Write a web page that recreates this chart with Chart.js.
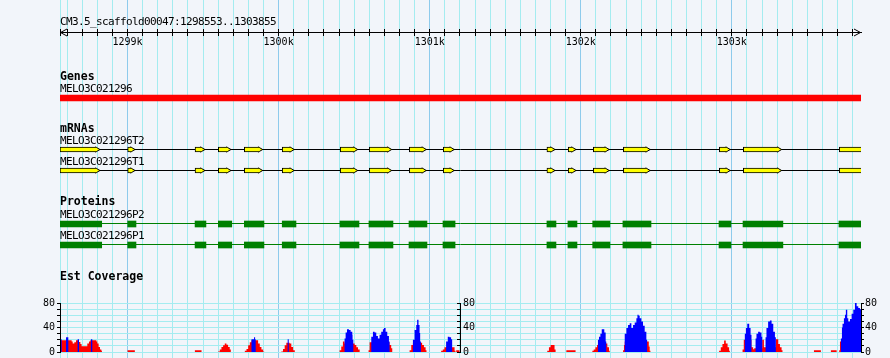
<!DOCTYPE html>
<html>
<head>
<meta charset="utf-8">
<script src="https://cdn.jsdelivr.net/npm/chart.js@4.4.1/dist/chart.umd.min.js"></script>
<style>
html,body{margin:0;padding:0;background:#f2f5fa;}
#wrap{position:relative;width:890px;height:358px;overflow:hidden;background:#f2f5fa;}
#wrap canvas{position:absolute;}
.lbl{position:absolute;left:60px;font-family:"DejaVu Sans Mono",monospace;font-size:11px;line-height:11px;letter-spacing:-0.62px;white-space:nowrap;color:#000;}
.lbl.ttl{font-weight:bold;font-size:11.5px;line-height:11.5px;letter-spacing:0;}
</style>
</head>
<body>
<div id="wrap">
  <canvas id="main" width="890" height="358" style="left:0;top:0"></canvas>
  <canvas id="covL" width="460" height="62" style="left:0;top:296px"></canvas>
  <canvas id="covR" width="440" height="62" style="left:450px;top:296px"></canvas>
</div>
<script>
// ---------------- DATA ----------------
const REGION_NAME = 'CM3.5_scaffold00047';
const REGION_START = 1298553;
const REGION_END = 1303855;
const regionTitle = REGION_NAME + ':' + REGION_START + '..' + REGION_END;

const kbTicks = [1299000, 1300000, 1301000, 1302000, 1303000];
const kbLabels = ['1299k', '1300k', '1301k', '1302k', '1303k'];

const trackTitles = ['Genes', 'mRNAs', 'Proteins', 'Est Coverage'];
const featureNames = ['MELO3C021296', 'MELO3C021296T2', 'MELO3C021296T1', 'MELO3C021296P2', 'MELO3C021296P1'];

// gene span (clipped to view)
const geneSpan = [[1298553, 1303855]];

// mRNA exons [start, end]
const t2Exons = [[1298553,1298798],[1299001,1299030],[1299447,1299493],[1299601,1299665],[1299773,1299875],[1300024,1300084],[1300408,1300504],[1300600,1300729],[1300865,1300958],[1301090,1301143],[1301776,1301810],[1301917,1301949],[1302083,1302169],[1302282,1302440],[1302917,1302970],[1303076,1303310],[1303711,1303855]];
const t1Exons = [[1298553,1298798],[1299001,1299030],[1299447,1299493],[1299601,1299665],[1299773,1299875],[1300024,1300084],[1300408,1300504],[1300600,1300729],[1300865,1300958],[1301090,1301143],[1301776,1301810],[1301917,1301949],[1302083,1302169],[1302282,1302440],[1302917,1302970],[1303076,1303310],[1303711,1303855]];

// protein (CDS) blocks [start, end]
const p2Blocks = [[1298553,1298829],[1299001,1299056],[1299447,1299519],[1299601,1299690],[1299773,1299903],[1300024,1300115],[1300406,1300532],[1300598,1300757],[1300863,1300982],[1301088,1301168],[1301776,1301836],[1301915,1301975],[1302079,1302193],[1302279,1302465],[1302915,1302994],[1303074,1303338],[1303709,1303855]];
const p1Blocks = [[1298553,1298829],[1299001,1299056],[1299447,1299519],[1299601,1299690],[1299773,1299903],[1300024,1300115],[1300406,1300532],[1300598,1300757],[1300863,1300982],[1301088,1301168],[1301776,1301836],[1301915,1301975],[1302079,1302193],[1302279,1302465],[1302915,1302994],[1303074,1303338],[1303709,1303855]];

// EST coverage [position, depth]; each value holds until the next position
const estRed = [[1298553,19],[1298630,17],[1298637,14],[1298648,16],[1298659,19],[1298679,16.5],[1298688,13],[1298696,9.4],[1298734,14],[1298745,17],[1298754,19],[1298794,17],[1298800,14],[1298809,8],[1298818,4],[1298827,2],[1298831,0],
[1299001,3],[1299049,0],
[1299447,3],[1299491,0],
[1299601,1],[1299612,4],[1299623,8],[1299634,11],[1299645,14],[1299656,12],[1299667,8],[1299678,4],[1299685,0],
[1299778,2],[1299789,5],[1299800,11],[1299811,16],[1299822,19],[1299866,14],[1299877,8],[1299888,4],[1299899,1],[1299906,0],
[1300020,1],[1300031,5],[1300042,11],[1300053,15],[1300075,14],[1300086,8],[1300098,3],[1300109,0],
[1300406,3],[1300417,9],[1300428,17],[1300439,14],[1300506,11.5],[1300517,7.7],[1300528,4],[1300539,0],
[1300598,3],[1300605,16],[1300737,11.5],[1300748,6],[1300755,0],
[1300870,3],[1300881,11.5],[1300892,15],[1300953,11.5],[1300965,7.7],[1300976,3],[1300982,0],
[1301079,2],[1301090,4],[1301101,7.7],[1301168,2],[1301174,0],[1301179,3],[1301201,0],
[1301781,2],[1301792,7.7],[1301803,11.5],[1301829,4],[1301836,0],
[1301907,3],[1301968,0],
[1302079,2],[1302088,4],[1302099,7.7],[1302110,11.5],[1302116,14],[1302178,7.7],[1302189,2],[1302194,0],
[1302282,3],[1302288,11.5],[1302293,17],[1302452,9],[1302458,2],[1302463,0],
[1302917,2],[1302928,7.7],[1302939,13],[1302950,18.6],[1302961,14],[1302973,7.7],[1302983,2],[1302988,0],
[1303072,4],[1303080,20],[1303131,7.7],[1303142,4.4],[1303149,6],[1303202,20],[1303213,7.7],[1303292,21],[1303308,13],[1303319,7.7],[1303330,3],[1303336,0],
[1303544,3],[1303590,0],
[1303656,3],[1303694,0],
[1303711,3],[1303716,17],[1303855,17]];

const estBlue = [[1298553,21],[1298564,0],[1298593,24],[1298608,0],[1298670,21],[1298679,0],[1298758,21],[1298767,0],
[1299822,21],[1299839,24],[1299846,21],[1299850,0],
[1300062,21],[1300069,0],
[1300439,22],[1300446,32],[1300455,37],[1300468,36],[1300479,33],[1300490,28],[1300492,20],[1300497,0],
[1300616,25],[1300627,33],[1300638,32],[1300649,26],[1300660,22],[1300671,28],[1300682,33],[1300693,37],[1300700,39],[1300711,33],[1300722,26],[1300733,17],[1300737,0],
[1300892,20],[1300903,36],[1300914,44],[1300920,52.6],[1300929,44],[1300936,31],[1300940,17],[1300945,0],
[1301112,17],[1301123,25],[1301134,24],[1301145,21],[1301152,0],
[1302116,20],[1302123,25],[1302132,29.6],[1302141,37],[1302158,32],[1302167,17],[1302171,0],
[1302293,29.6],[1302304,39],[1302315,44],[1302326,47],[1302337,39],[1302348,44],[1302359,48],[1302370,55],[1302377,61],[1302385,59],[1302392,55],[1302403,50],[1302414,43],[1302425,33],[1302436,20],[1302441,0],
[1303087,30],[1303094,39],[1303103,46],[1303116,39],[1303125,28],[1303131,0],[1303158,22],[1303164,29.6],[1303175,33],[1303186,32],[1303197,25],[1303202,0],[1303224,24],[1303230,39],[1303241,50],[1303253,51.5],[1303264,46],[1303275,33],[1303286,24],[1303292,0],
[1303722,22],[1303729,40],[1303733,46],[1303742,55],[1303749,61],[1303755,69],[1303764,55],[1303771,50],[1303782,54],[1303793,62.5],[1303804,69],[1303815,80],[1303826,74.5],[1303837,72],[1303848,70],[1303855,70]];

const covMax = 80;
const covStep = 10;
const covLabelValues = [0, 40, 80];

// ---------------- LAYOUT / STYLE ----------------
const RULER_STEP = 100;
const RULER_Y = 32;
const ROW = {gene: 98, t2: 149.5, t1: 170.5, p2: 224, p1: 245};
const LINE_Y = {t2: 149.5, t1: 170.5, p2: 223.5, p1: 244.5};
const COL = {minor: '#a4ecf0', major: '#8ecbec', gene: '#ff0000', exon: '#ffff00', cds: '#008000', red: '#ff0000', blue: '#0000ff'};
const TITLE_BASE = [81, 133, 206, 280.7];
const NAME_BASE = [92, 144.5, 165, 218.7, 239];
const REGION_BASE = 25;

Chart.defaults.font.family = '"DejaVu Sans Mono", monospace';
Chart.defaults.font.size = 10;
Chart.defaults.color = '#000';
Chart.defaults.animation = false;
Chart.defaults.plugins.legend.display = false;
Chart.defaults.plugins.tooltip.enabled = false;

// ---------------- LABELS (DOM text) ----------------
const wrap = document.getElementById('wrap');
function addLabel(text, baseline, bold) {
  const d = document.createElement('div');
  d.className = 'lbl' + (bold ? ' ttl' : '');
  const fs = bold ? 11.5 : 11;
  d.style.top = (baseline - 0.846 * fs) + 'px';
  d.textContent = text;
  wrap.appendChild(d);
}
addLabel(regionTitle, REGION_BASE, false);
trackTitles.forEach((t, i) => addLabel(t, TITLE_BASE[i], true));
featureNames.forEach((t, i) => addLabel(t, NAME_BASE[i], false));

// ---------------- MAIN CHART ----------------
function spanOf(blocks) {
  return [Math.min(...blocks.map(b => b[0])), Math.max(...blocks.map(b => b[1]))];
}
function barSet(label, blocks, row, color, thick, bordered) {
  return {
    type: 'bar', label, indexAxis: 'y', stack: 'tracks', order: 1,
    data: blocks.map(b => ({x: [b[0], b[1]], y: row})),
    backgroundColor: color, borderColor: '#000',
    borderWidth: bordered ? 1 : 0, borderSkipped: bordered ? 'right' : false,
    barThickness: thick
  };
}
function arrowSet(blocks, row) {
  return {
    type: 'scatter', order: 2,
    data: blocks.filter(b => b[1] < REGION_END).map(b => ({x: b[1], y: row})),
    pointStyle: 'triangle', pointRotation: 90, pointRadius: 3, pointHoverRadius: 3,
    pointBackgroundColor: COL.exon, pointBorderColor: '#000', pointBorderWidth: 1
  };
}
function lineSet(blocks, y, color) {
  const s = spanOf(blocks);
  return {
    type: 'line', order: 3, data: [{x: s[0], y}, {x: s[1], y}],
    borderColor: color, borderWidth: 1, pointRadius: 0, pointHoverRadius: 0, fill: false
  };
}
function buildRulerTicks(scale) {
  const t = [{value: REGION_START}];
  for (let v = Math.ceil(REGION_START / RULER_STEP) * RULER_STEP; v < REGION_END; v += RULER_STEP) t.push({value: v});
  scale.ticks = t;
}
function rulerLabel(value) {
  const i = kbTicks.indexOf(value);
  return i >= 0 ? kbLabels[i] : '';
}
function zeroFitX(s) { s.height = 0; s.paddingLeft = 0; s.paddingRight = 0; s.paddingTop = 0; s.paddingBottom = 0; }
const rulerArrows = {
  id: 'rulerArrows',
  afterDraw(chart) {
    const xs = chart.scales.x, ys = chart.scales.y;
    const y = Math.round(ys.getPixelForValue(RULER_Y)) + 0.5;
    const ctx = chart.ctx;
    ctx.save();
    ctx.strokeStyle = '#000'; ctx.lineWidth = 1;
    ctx.beginPath();
    ctx.moveTo(xs.left + 7, y - 3.5); ctx.lineTo(xs.left + 0.5, y); ctx.lineTo(xs.left + 7, y + 3.5);
    ctx.moveTo(xs.right - 7, y - 3.5); ctx.lineTo(xs.right - 0.5, y); ctx.lineTo(xs.right - 7, y + 3.5);
    ctx.stroke();
    ctx.restore();
  }
};
const gridColor = c => (c.tick && c.tick.value % 1000 === 0) ? COL.major : COL.minor;

new Chart(document.getElementById('main'), {
  type: 'bar',
  data: {
    datasets: [
      barSet('Genes', geneSpan, ROW.gene, COL.gene, 6, false),
      barSet('T2', t2Exons, ROW.t2, COL.exon, 5, true),
      barSet('T1', t1Exons, ROW.t1, COL.exon, 5, true),
      barSet('P2', p2Blocks, ROW.p2, COL.cds, 6, false),
      barSet('P1', p1Blocks, ROW.p1, COL.cds, 6, false),
      arrowSet(t2Exons, ROW.t2),
      arrowSet(t1Exons, ROW.t1),
      lineSet(t2Exons, LINE_Y.t2, '#000'),
      lineSet(t1Exons, LINE_Y.t1, '#000'),
      lineSet(p2Blocks, LINE_Y.p2, COL.cds),
      lineSet(p1Blocks, LINE_Y.p1, COL.cds)
    ]
  },
  options: {
    responsive: false, devicePixelRatio: 1, events: [],
    layout: {autoPadding: false, padding: {left: 60, right: 29, top: 0, bottom: 0}},
    scales: {
      x: {
        type: 'linear', axis: 'x', min: REGION_START, max: REGION_END,
        position: {y: RULER_Y}, offset: false, stacked: false,
        afterFit: zeroFitX,
        afterBuildTicks: buildRulerTicks,
        grid: {offset: false, color: gridColor, lineWidth: 1, drawTicks: true, tickLength: 3, tickColor: '#000'},
        border: {display: true, color: '#000', width: 1},
        ticks: {autoSkip: false, maxRotation: 0, minRotation: 0, padding: 1.5, callback: rulerLabel, color: '#000', font: {size: 10}}
      },
      xTop: {
        type: 'linear', axis: 'x', min: REGION_START, max: REGION_END,
        position: {y: RULER_Y - 3}, offset: false,
        afterFit: zeroFitX,
        afterBuildTicks: buildRulerTicks,
        grid: {offset: false, drawOnChartArea: false, drawTicks: true, tickLength: 3, tickColor: '#000'},
        border: {display: false},
        ticks: {display: false, autoSkip: false, maxRotation: 0}
      },
      y: {type: 'linear', min: 0, max: 358, reverse: true, display: false, offset: false, grid: {offset: false}}
    }
  },
  plugins: [rulerArrows]
});

// ---------------- COVERAGE CHARTS ----------------
const MID = (REGION_START + REGION_END) / 2;
function covDatasets() {
  return [
    {label: 'EST red', data: estRed.map(p => ({x: p[0], y: p[1]})), backgroundColor: COL.red,
     borderColor: 'rgba(0,0,0,0)', borderWidth: 0, fill: 'origin', stepped: 'before',
     pointRadius: 0, pointHoverRadius: 0, order: 2},
    {label: 'EST blue', data: estBlue.map(p => ({x: p[0], y: p[1]})), backgroundColor: COL.blue,
     borderColor: 'rgba(0,0,0,0)', borderWidth: 0, fill: 'origin', stepped: 'before',
     pointRadius: 0, pointHoverRadius: 0, order: 1}
  ];
}
function covAxis(pos, width, mirror, padding, drawArea) {
  return {
    type: 'linear', position: pos, min: 0, max: covMax,
    afterFit: s => { s.width = width; s.paddingTop = 0; s.paddingBottom = 0; s.paddingLeft = 0; s.paddingRight = 0; },
    ticks: {stepSize: covStep, autoSkip: false, mirror, padding, color: '#000', font: {size: 10},
            callback: v => covLabelValues.includes(v) ? String(v) : ''},
    grid: {color: COL.minor, lineWidth: 1, drawOnChartArea: drawArea, drawTicks: true, tickLength: 3, tickColor: '#000'},
    border: {display: true, color: '#000', width: 1, z: 1}
  };
}
new Chart(document.getElementById('covL'), {
  type: 'line',
  data: {datasets: covDatasets()},
  options: {
    responsive: false, devicePixelRatio: 1, events: [],
    layout: {autoPadding: false, padding: {top: 7, bottom: 6, left: 0, right: 0}},
    scales: {
      x: {type: 'linear', min: REGION_START, max: MID, display: false},
      y: covAxis('left', 60, false, 2, true)
    }
  }
});
new Chart(document.getElementById('covR'), {
  type: 'line',
  data: {datasets: covDatasets()},
  options: {
    responsive: false, devicePixelRatio: 1, events: [],
    layout: {autoPadding: false, padding: {top: 7, bottom: 6, left: 0, right: 0}},
    scales: {
      x: {type: 'linear', min: MID, max: REGION_END, display: false},
      y: covAxis('left', 10, true, 3, true),
      y2: covAxis('right', 29, false, 1, false)
    }
  }
});
</script>
</body>
</html>
